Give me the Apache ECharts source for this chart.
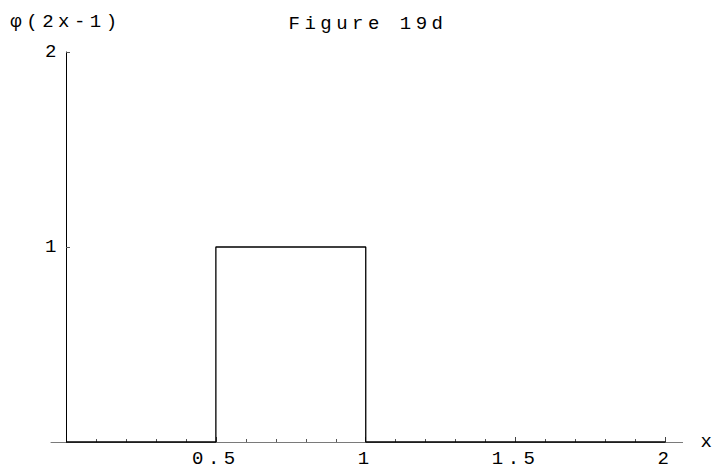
<!DOCTYPE html>
<html>
<head>
<meta charset="utf-8">
<script src="https://cdn.jsdelivr.net/npm/echarts@6/dist/echarts.min.js"></script>
<style>
  html, body { margin: 0; padding: 0; background: #ffffff; }
  #chart { width: 715px; height: 474px; }
  #chart text { letter-spacing: 4.5px; font-family: 'Liberation Mono', 'Courier New', monospace !important; }
</style>
</head>
<body>
<div id="chart"></div>
<script>
// ---- data ----
var titleText = 'Figure 19d';
var yName = 'φ(2x-1)';
var xName = 'x';
// step function phi(2x-1): value holds from each breakpoint to the next
var breakX = [0, 0.5, 1, 2];
var levels = [0, 1, 0, 0];
// tick labels / tick positions
var xMajorTicks = [0.5, 1, 1.5, 2];
var xMinorTicks = [0.1, 0.2, 0.3, 0.4, 0.6, 0.7, 0.8, 0.9, 1.1, 1.2, 1.3, 1.4, 1.6, 1.7, 1.8, 1.9];
var yTicks = [1, 2];

var FONT = "'Liberation Mono', 'Courier New', monospace";

var seriesData = breakX.map(function (x, i) { return [x, levels[i]]; });

var chart = echarts.init(document.getElementById('chart'), null, { renderer: 'svg' });
chart.setOption({
  backgroundColor: '#ffffff',
  animation: false,
  title: {
    text: titleText,
    left: 363,
    textAlign: 'center',
    top: 9,
    textStyle: { fontFamily: FONT, fontSize: 19, fontWeight: 'normal', color: '#000' }
  },
  grid: { left: 51, right: 32, top: 52, bottom: 32, containLabel: false },
  xAxis: [
    {
      type: 'value', min: -0.05, max: 2.057, position: 'bottom',
      name: xName, nameLocation: 'end', nameGap: 18,
      nameTextStyle: { fontFamily: FONT, fontSize: 19, color: '#000' },
      axisLine: { show: true, onZero: false, lineStyle: { color: '#7a7a7a', width: 1 } },
      axisTick: { show: true, inside: true, length: 5, customValues: xMajorTicks, lineStyle: { color: '#444', width: 1 } },
      axisLabel: { show: true, customValues: xMajorTicks, margin: 7, fontFamily: FONT, fontSize: 19, color: '#000',
        formatter: function (v) { return String(v); } },
      splitLine: { show: false }
    },
    {
      type: 'value', min: -0.05, max: 2.057, position: 'bottom',
      axisLine: { show: false, onZero: false },
      axisTick: { show: true, inside: true, length: 3, customValues: xMinorTicks, lineStyle: { color: '#555', width: 1 } },
      axisLabel: { show: false },
      splitLine: { show: false }
    }
  ],
  yAxis: {
    type: 'value', min: 0, max: 2,
    name: yName, nameLocation: 'end', nameGap: 21,
    nameTextStyle: { fontFamily: FONT, fontSize: 19, color: '#000', align: 'center' },
    axisLine: { show: true, onZero: true, onZeroAxisIndex: 0, lineStyle: { color: '#000', width: 1 } },
    axisTick: { show: true, inside: true, length: 4, customValues: yTicks, lineStyle: { color: '#555', width: 1 } },
    axisLabel: { show: true, customValues: yTicks, margin: -10, fontFamily: FONT, fontSize: 19, color: '#000' },
    splitLine: { show: false }
  },
  series: [{
    type: 'line',
    xAxisIndex: 0,
    step: 'end',
    data: seriesData,
    symbol: 'none',
    clip: false,
    lineStyle: { color: '#000', width: 1.3 }
  }]
});
</script>
</body>
</html>
